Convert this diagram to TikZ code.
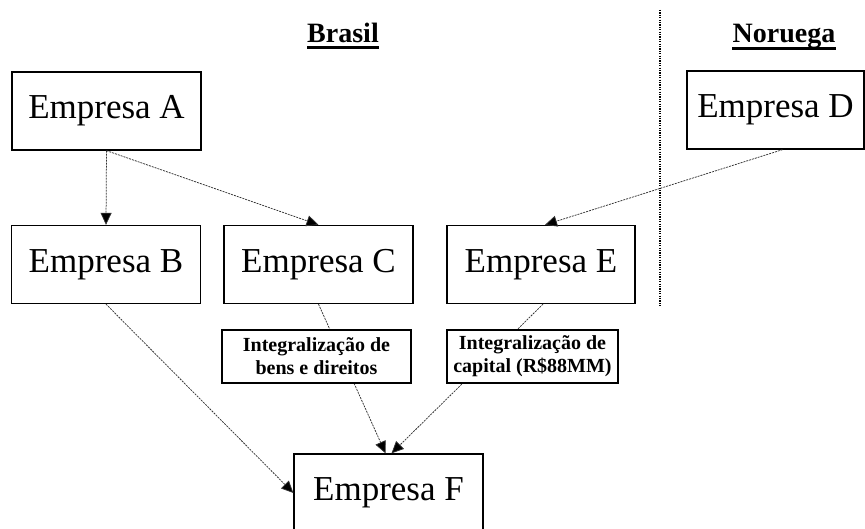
\documentclass[tikz,border=0pt]{standalone}
\usepackage{fontspec}
\setmainfont{Liberation Serif}
\usetikzlibrary{arrows.meta,calc}

\tikzset{
  firm/.style={draw, line width=1.3pt, minimum width=189pt, minimum height=78pt,
    inner sep=0pt, font=\fontsize{35}{40}\selectfont},
  note/.style={draw, line width=1.3pt, fill=white, inner sep=0pt, minimum height=53pt,
    align=center, font=\fontsize{20}{23}\selectfont\bfseries},
  title/.style={inner sep=0pt, anchor=base, font=\fontsize{28}{32}\selectfont\bfseries},
  uline/.style={line width=2.2pt},
  link/.style={draw=black!80, line width=0.75pt, dash pattern=on 2pt off 1pt,
    -{Triangle[length=12pt,width=11pt,fill=black]}},
  border/.style={line width=1.4pt, dash pattern=on 1.2pt off 1.2pt}
}

\begin{document}
\begin{tikzpicture}[x=1pt,y=-1pt]
\useasboundingbox (0,0) rectangle (865,529);

% country headings
\node[title] (brasil) at (343,43) {Brasil};
\node[title] (noruega) at (784,43) {Noruega};
\draw[uline] ($(brasil.base west)+(0,4.5)$) -- ($(brasil.base east)+(0,4.5)$);
\draw[uline] ($(noruega.base west)+(0,5.5)$) -- ($(noruega.base east)+(0,5.5)$);

% border between the two countries
\coordinate (bordtop) at (660,10);
\coordinate (bordbot) at (660,306);
\draw[border] (bordtop) -- (bordbot);

% companies
\node[firm] (A) at (106.5,111) {Empresa A};
\node[firm, minimum width=177pt] (D) at (775.5,110) {Empresa D};
\node[firm] (B) at (106,264.5) {Empresa B};
\node[firm] (C) at (318.5,264.5) {Empresa C};
\node[firm, minimum width=188pt] (E) at (541,264.5) {Empresa E};
\node[firm] (F) at (388.5,493) {Empresa F};

% ownership links
\draw[link] (A.south) -- (B.north);
\draw[link] (A.south) -- (C.north);
\draw[link] ($(D.south)+(7,0)$) -- ($(E.north)+(4,0)$);
\draw[link] (B.south) -- (F.west);
\draw[link] (C.south) -- ($(F.north)+(-3,0)$);
\draw[link] ($(E.south)+(2,0)$) -- ($(F.north)+(3,0)$);

% contribution labels over the links
\node[note, minimum width=189pt] (n1) at (316.5,356.5) {Integralização de\\bens e direitos};
\node[note, minimum width=171pt] (n2) at (532.5,356.5) {Integralização de\\capital (R\$88MM)};
\end{tikzpicture}
\end{document}
